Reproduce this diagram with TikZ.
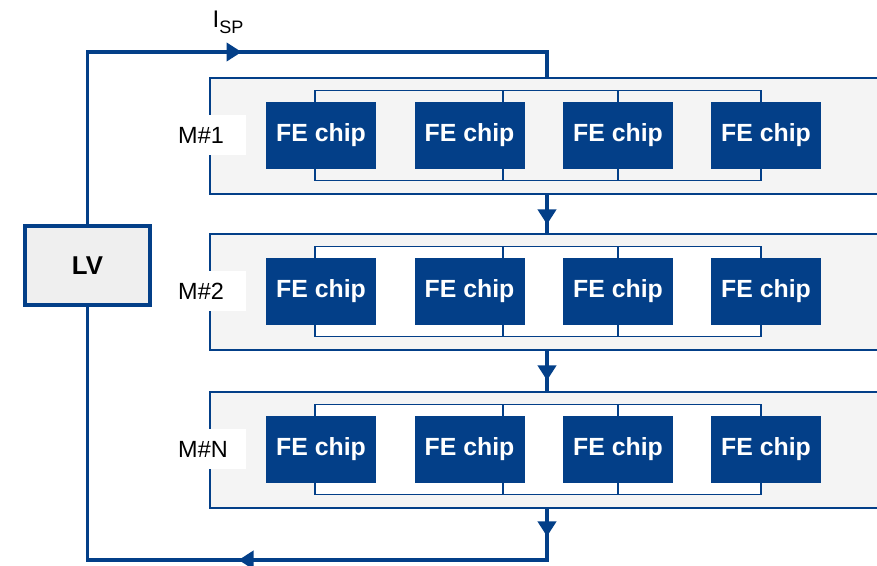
\documentclass[tikz,border=0pt]{standalone}
\usepackage{fontspec}
\setmainfont{Liberation Sans}
\usetikzlibrary{arrows.meta, calc, positioning, decorations.markings}
\definecolor{lvblue}{RGB}{3,63,136}
\definecolor{modgray}{HTML}{F4F4F4}
\definecolor{lvgray}{HTML}{EFEFEF}
\tikzset{
  wire/.style={draw=lvblue, line width=3.3pt},
  flow/.style={postaction={decorate, decoration={markings, mark=at position #1 with {\arrow{Triangle[width=0.54cm,length=0.45cm]}}}}},
  module/.style={draw=lvblue, line width=2.1pt, fill=modgray, minimum width=21cm, minimum height=3.48cm, anchor=north west, inner sep=0},
  bus/.style={draw=lvblue, line width=1.6pt},
  chip/.style={fill=lvblue, text=white, minimum width=3.3cm, minimum height=2.01cm, inner sep=0, font=\fontsize{21.2}{24}\selectfont\bfseries},
  mlabel/.style={fill=white, anchor=west, inner xsep=0, text width=2.04cm, align=left, minimum height=1.2cm, font=\fontsize{20}{24}\selectfont},
}

\begin{document}
\begin{tikzpicture}[x=0.03cm, y=-0.03cm]
\useasboundingbox (0,0) rectangle (877,565);
\clip (0,0) rectangle (877,565);

% supply
\node[draw=lvblue, line width=3.3pt, fill=lvgray, minimum width=3.76cm, minimum height=2.38cm, inner sep=0, font=\fontsize{22}{26}\selectfont\bfseries] (lv) at (87.5,265.5) {LV};

% modules with their chips
\foreach \row/\ytop/\lbl/\busfill in {1/77/1/none, 2/233/2/white, 3/391/N/white} {
  \node[module] (m\row) at (209,\ytop) {};
  \draw[bus, fill=\busfill] (315,\ytop+13.5) rectangle (761,\ytop+103.5);
  \draw[bus] (503,\ytop+13.5) -- (503,\ytop+103.5)
             (618,\ytop+13.5) -- (618,\ytop+103.5);
  \foreach \i/\cx in {1/321, 2/469.5, 3/618, 4/766}
    \node[chip] (c\row\i) at (\cx,\ytop+58.5) {FE chip};
  \node[mlabel] (l\row) at (178,\ytop+58) {M\#\lbl};
}

% serial powering loop
\coordinate (top) at (547,52);
\coordinate (bot) at (547,560);
\draw[wire, flow=9.78cm] (lv.north) |- (top) -- (top |- m1.north);
\draw[wire, flow=0.87cm] (top |- m1.south) -- (top |- m2.north);
\draw[wire, flow=0.87cm] (top |- m2.south) -- (top |- m3.north);
\draw[wire, flow=0.81cm, flow=10.77cm] (top |- m3.south) -- (bot) -| (lv.south);

\node[font=\fontsize{20.5}{24}\selectfont] (isp) at (228,22) {I\raisebox{-5pt}{\fontsize{15.4}{16}\selectfont SP}};
\end{tikzpicture}
\end{document}
